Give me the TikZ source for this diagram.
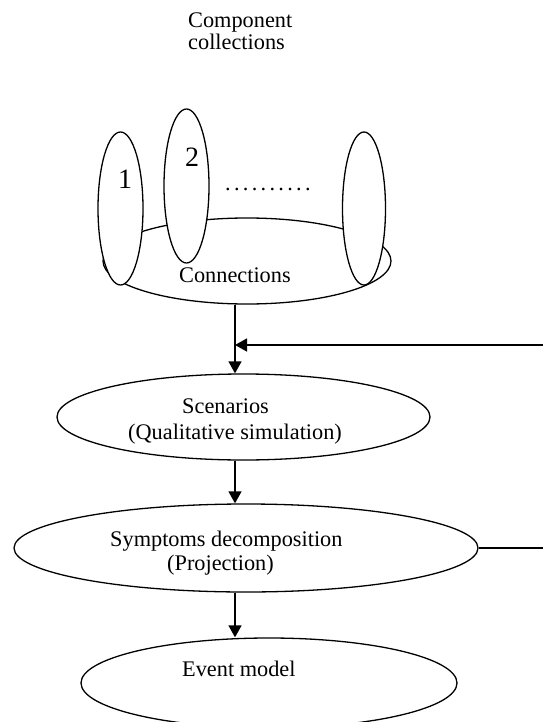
\documentclass[tikz,border=0pt]{standalone}
\usepackage{fontspec}
\setmainfont{Liberation Serif}
\usetikzlibrary{shapes.geometric,arrows.meta}
\begin{document}
\begin{tikzpicture}[x=1pt,y=-1pt,
  shp/.style={ellipse,draw,line width=1.3pt,inner sep=0pt,fill=white},
  txt/.style={anchor=base west,inner sep=0pt,font=\fontsize{22.3}{26}\selectfont},
  num/.style={anchor=base,inner sep=0pt,font=\fontsize{28}{32}\selectfont},
  arr/.style={line width=1.3pt,-{Triangle[length=12pt,width=13pt]}},
  ln/.style={line width=1.3pt}]
\useasboundingbox (0,0) rectangle (543,722);
% title
\node[txt] (t1) at (188,28) {Component};
\node[txt] (t2) at (188,50) {collections};
% connections ring
\node[shp,minimum width=288pt,minimum height=86pt] (conn) at (247,261) {};
\node[shp,minimum width=45pt,minimum height=153pt] (c1) at (120.5,208.5) {};
\node[shp,minimum width=45pt,minimum height=154pt] (c2) at (186.5,186) {};
\node[shp,minimum width=43pt,minimum height=153pt] (c3) at (364,208.5) {};
\node[num] (n1) at (125,188) {1};
\node[num] (n2) at (192,167) {2};
\node[txt] (dots) at (225,190) {.\kern3.3pt.\kern3.3pt.\kern3.3pt.\kern3.3pt.\kern3.3pt.\kern3.3pt.\kern3.3pt.\kern3.3pt.\kern3.3pt.};
\node[txt] (ct) at (179,282) {Connections};
% scenarios
\node[shp,minimum width=373pt,minimum height=86pt] (scen) at (243.5,417) {};
\node[txt] (s1) at (182,413) {Scenarios};
\node[txt] (s2) at (128,439) {(Qualitative simulation)};
% symptoms
\node[shp,minimum width=464pt,minimum height=88pt] (symp) at (246,548) {};
\node[txt] (p1) at (110,546) {Symptoms decomposition};
\node[txt] (p2) at (167,570) {(Projection)};
% event model
\node[shp,minimum width=376pt,minimum height=90pt] (evt) at (269,683) {};
\node[txt] (e1) at (182,676) {Event model};
% connectors
\coordinate (ax) at (235,0);
\coordinate (fb1) at (543,345);
\coordinate (fb2) at (543,545);
\draw[arr] (ax |- conn.south) -- (ax |- scen.north);
\draw[arr] (fb1) -- (fb1 -| ax);
\draw[arr] (ax |- scen.south) -- (ax |- symp.north);
\draw[arr] (ax |- symp.south) -- (ax |- evt.north);
\draw[ln] (symp.east) -- (symp.east -| fb2);
\end{tikzpicture}
\end{document}
